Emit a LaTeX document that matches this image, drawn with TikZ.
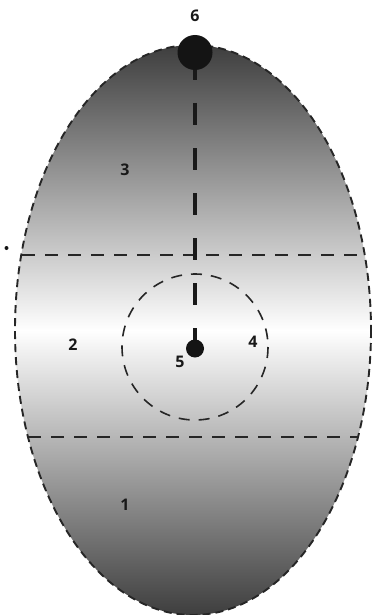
\documentclass[tikz,border=0pt]{standalone}
\usepackage{fontspec}
\setsansfont{Open Sans}
\begin{document}
\begin{tikzpicture}[x=1pt,y=-1pt,
  lab/.style={font=\sffamily\bfseries\fontsize{16}{16}\selectfont, text=black!90, inner sep=0pt},
  outline/.style={line width=1.9pt, dash pattern=on 8pt off 5pt, black!85},
  band/.style={line width=1.9pt, dash pattern=on 13pt off 10pt, black!85},
  ring/.style={line width=1.6pt, dash pattern=on 11pt off 9pt, black!85},
  axisline/.style={line width=4.5pt, dash pattern=on 22pt off 23pt, black!90},
  dot/.style={circle, fill=black!92, inner sep=0pt}]
\useasboundingbox (0,0) rectangle (372,615);
\colorlet{eggdark}{black!76}
\begin{scope}
  \clip (193,330) ellipse [x radius=178, y radius=285];
  \shade[top color=eggdark, bottom color=white] (0,44) rectangle (372,331);
  \shade[top color=white, bottom color=eggdark] (0,330) rectangle (372,616);
\end{scope}
\draw[outline] (193,330) ellipse [x radius=178, y radius=285];
% band lines
\coordinate (b1l) at (22,255); \coordinate (b1r) at (365,255);
\coordinate (b2l) at (28,437); \coordinate (b2r) at (358,437);
\draw[band] (b1l) -- (b1r);
\draw[band] (b2l) -- (b2r);
% ring
\draw[ring] (195,347) circle [radius=73];
% axis
\coordinate (top) at (195,58);
\coordinate (bot) at (195,350);
\draw[axisline] (top) -- (bot);
\node[dot, minimum size=35pt] (d6) at (195,52.5) {};
\node[dot, minimum size=18pt] (d5) at (195,348.5) {};
\node[dot, minimum size=4pt] (stray) at (6.5,248) {};
% labels
\node[lab] (l6) at (195,16) {6};
\node[lab] (l3) at (125,170) {3};
\node[lab] (l2) at (73,345) {2};
\node[lab] (l5) at (180,362) {5};
\node[lab] (l4) at (253,342) {4};
\node[lab] (l1) at (125,505) {1};
\end{tikzpicture}
\end{document}
